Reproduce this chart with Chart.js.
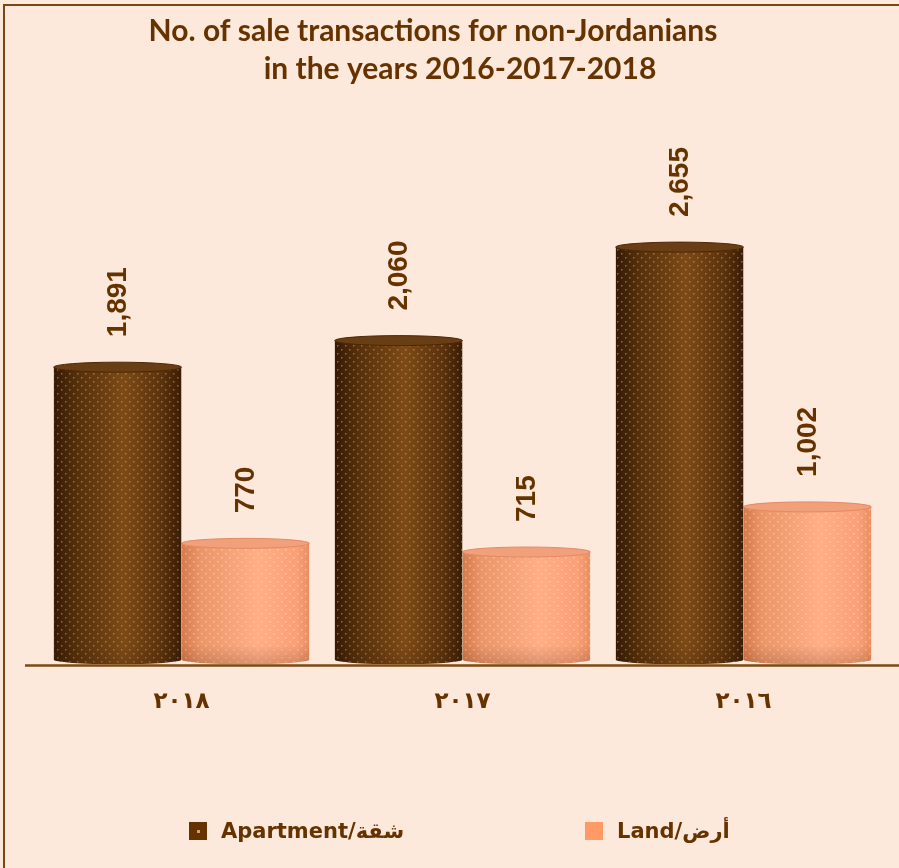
<!DOCTYPE html>
<html>
<head>
<meta charset="utf-8">
<script src="https://cdn.jsdelivr.net/npm/chart.js@4.4.0/dist/chart.umd.min.js"></script>
<style>
  html, body { margin: 0; padding: 0; background: #fce9dc; }
  #chart { display: block; }
</style>
</head>
<body>
<canvas id="chart" width="899" height="868"></canvas>
<script>
const years = ["٢٠١٨", "٢٠١٧", "٢٠١٦"];
const apartmentSales = [1891, 2060, 2655];
const landSales = [770, 715, 1002];
const seriesNames = ["Apartment/شقة", "Land/أرض"];
const titleLines = ["No. of sale transactions for non-Jordanians", "in the years 2016-2017-2018"];

const brown = "#663300";
const bg = "#fce9dc";

// colours for the two cylinder series
const shades = [
  { stops: [[0, "#341a04"], [0.18, "#55300c"], [0.55, "#7c4a16"], [0.85, "#5a320d"], [1, "#3a1d05"]],
    top: "#6a3e14", rim: "#4a2808", flat: "#663300", dot: "rgba(235,175,95,0.5)" },
  { stops: [[0, "#d57a4c"], [0.15, "#eb966a"], [0.6, "#ffae86"], [0.9, "#f9a077"], [1, "#e98e62"]],
    top: "#f2a07c", rim: "#e38a64", flat: "#ff9966", dot: "rgba(255,228,195,0.5)" }
];
const ry = 5;

function dotPattern(ctx, color) {
  const c = document.createElement("canvas");
  c.width = 8; c.height = 8;
  const g = c.getContext("2d");
  g.fillStyle = color;
  g.fillRect(1, 1, 1.5, 1.5);
  g.fillRect(5, 5, 1.5, 1.5);
  return ctx.createPattern(c, "repeat");
}

function cylinderPath(ctx, el) {
  const l = el.x - el.width / 2, r = el.x + el.width / 2;
  ctx.moveTo(l, el.y);
  ctx.lineTo(l, el.base - ry);
  ctx.ellipse(el.x, el.base - ry, el.width / 2, ry, 0, Math.PI, 0, true);
  ctx.lineTo(r, el.y);
  ctx.closePath();
}

function sideGradient(ctx, el, s) {
  const g = ctx.createLinearGradient(el.x - el.width / 2, 0, el.x + el.width / 2, 0);
  s.stops.forEach(([p, c]) => g.addColorStop(p, c));
  return g;
}

const cylinders = {
  id: "cylinders",
  beforeDraw(chart) {
    const ctx = chart.ctx;
    ctx.save();
    ctx.fillStyle = bg;
    ctx.fillRect(0, 0, chart.width, chart.height);
    ctx.strokeStyle = "#7a4514";
    ctx.lineWidth = 2;
    ctx.strokeRect(4, 5, chart.width + 10, chart.height + 10);

    ctx.fillStyle = brown;
    ctx.font = "bold 30px Lato";
    ctx.textAlign = "center";
    ctx.textBaseline = "alphabetic";
    ctx.fillText(titleLines[0], 433, 41);
    ctx.fillText(titleLines[1], 460, 79);
    ctx.restore();
  },
  beforeDatasetDraw(chart, args) {
    const ctx = chart.ctx;
    const s = shades[args.index];
    ctx.save();
    ctx.beginPath();
    args.meta.data.forEach(el => {
      cylinderPath(ctx, el);
      el.options.backgroundColor = sideGradient(ctx, el, s);
    });
    ctx.clip();
  },
  afterDatasetDraw(chart, args) {
    const ctx = chart.ctx;
    ctx.restore();
    const s = shades[args.index];
    const dots = dotPattern(ctx, s.dot);
    args.meta.data.forEach(el => {
      ctx.save();
      ctx.beginPath();
      cylinderPath(ctx, el);
      ctx.clip();
      ctx.fillStyle = dots;
      ctx.fillRect(el.x - el.width / 2, el.y, el.width, el.base - el.y);
      // slight shadow towards the base
      const sh = ctx.createLinearGradient(0, el.base - 20, 0, el.base);
      sh.addColorStop(0, "rgba(60,25,0,0)");
      sh.addColorStop(1, "rgba(60,25,0,0.18)");
      ctx.fillStyle = sh;
      ctx.fillRect(el.x - el.width / 2, el.base - 20, el.width, 20);
      ctx.restore();

      ctx.save();
      ctx.beginPath();
      ctx.ellipse(el.x, el.y, el.width / 2, ry, 0, 0, Math.PI * 2);
      ctx.fillStyle = s.top;
      ctx.fill();
      ctx.strokeStyle = s.rim;
      ctx.lineWidth = 1;
      ctx.stroke();
      ctx.restore();
    });
  },
  afterDatasetsDraw(chart) {
    const ctx = chart.ctx;
    const y0 = chart.scales.y.getPixelForValue(0);
    ctx.save();
    ctx.strokeStyle = "#7a4a14";
    ctx.lineWidth = 2.5;
    ctx.beginPath();
    ctx.moveTo(25, y0 + 1);
    ctx.lineTo(chart.width, y0 + 1);
    ctx.stroke();

    // value labels, rotated
    ctx.fillStyle = brown;
    ctx.font = "bold 28px 'Liberation Sans'";
    ctx.textAlign = "left";
    ctx.textBaseline = "middle";
    chart.data.datasets.forEach((ds, di) => {
      chart.getDatasetMeta(di).data.forEach((el, i) => {
        ctx.save();
        ctx.translate(el.x + 1, el.y - 30);
        ctx.rotate(-Math.PI / 2);
        ctx.fillText(ds.data[i].toLocaleString("en-US"), 0, 0);
        ctx.restore();
      });
    });

    // legend
    const items = [{ x: 189, s: shades[0] }, { x: 585, s: shades[1] }];
    ctx.font = "bold 21px 'DejaVu Sans'";
    ctx.textBaseline = "alphabetic";
    items.forEach((it, i) => {
      ctx.fillStyle = it.s.flat;
      ctx.fillRect(it.x, 822, 18, 18);
      if (i === 0) {
        ctx.fillStyle = "#c9a57a";
        ctx.fillRect(it.x + 8, 830, 3, 3);
      }
      ctx.fillStyle = brown;
      ctx.fillText(seriesNames[i], it.x + 32, 838);
    });
    ctx.restore();
  }
};

new Chart(document.getElementById("chart"), {
  type: "bar",
  data: {
    labels: years,
    datasets: [
      { label: seriesNames[0], data: apartmentSales, backgroundColor: () => shades[0].flat, borderWidth: 0 },
      { label: seriesNames[1], data: landSales, backgroundColor: () => shades[1].flat, borderWidth: 0 }
    ]
  },
  options: {
    responsive: false,
    animation: false,
    datasets: { bar: { categoryPercentage: 0.91, barPercentage: 1.0 } },
    layout: { padding: { top: 130, left: 41, right: 15, bottom: 128 } },
    plugins: {
      legend: { display: false },
      title: { display: false },
      tooltip: { enabled: false }
    },
    scales: {
      x: {
        grid: { display: false, drawTicks: false },
        border: { display: false },
        ticks: { color: brown, padding: 24, font: { family: "DejaVu Sans", size: 23, weight: "bold" } }
      },
      y: { display: false, min: 0, max: 3400 }
    }
  },
  plugins: [cylinders]
});
</script>
</body>
</html>
